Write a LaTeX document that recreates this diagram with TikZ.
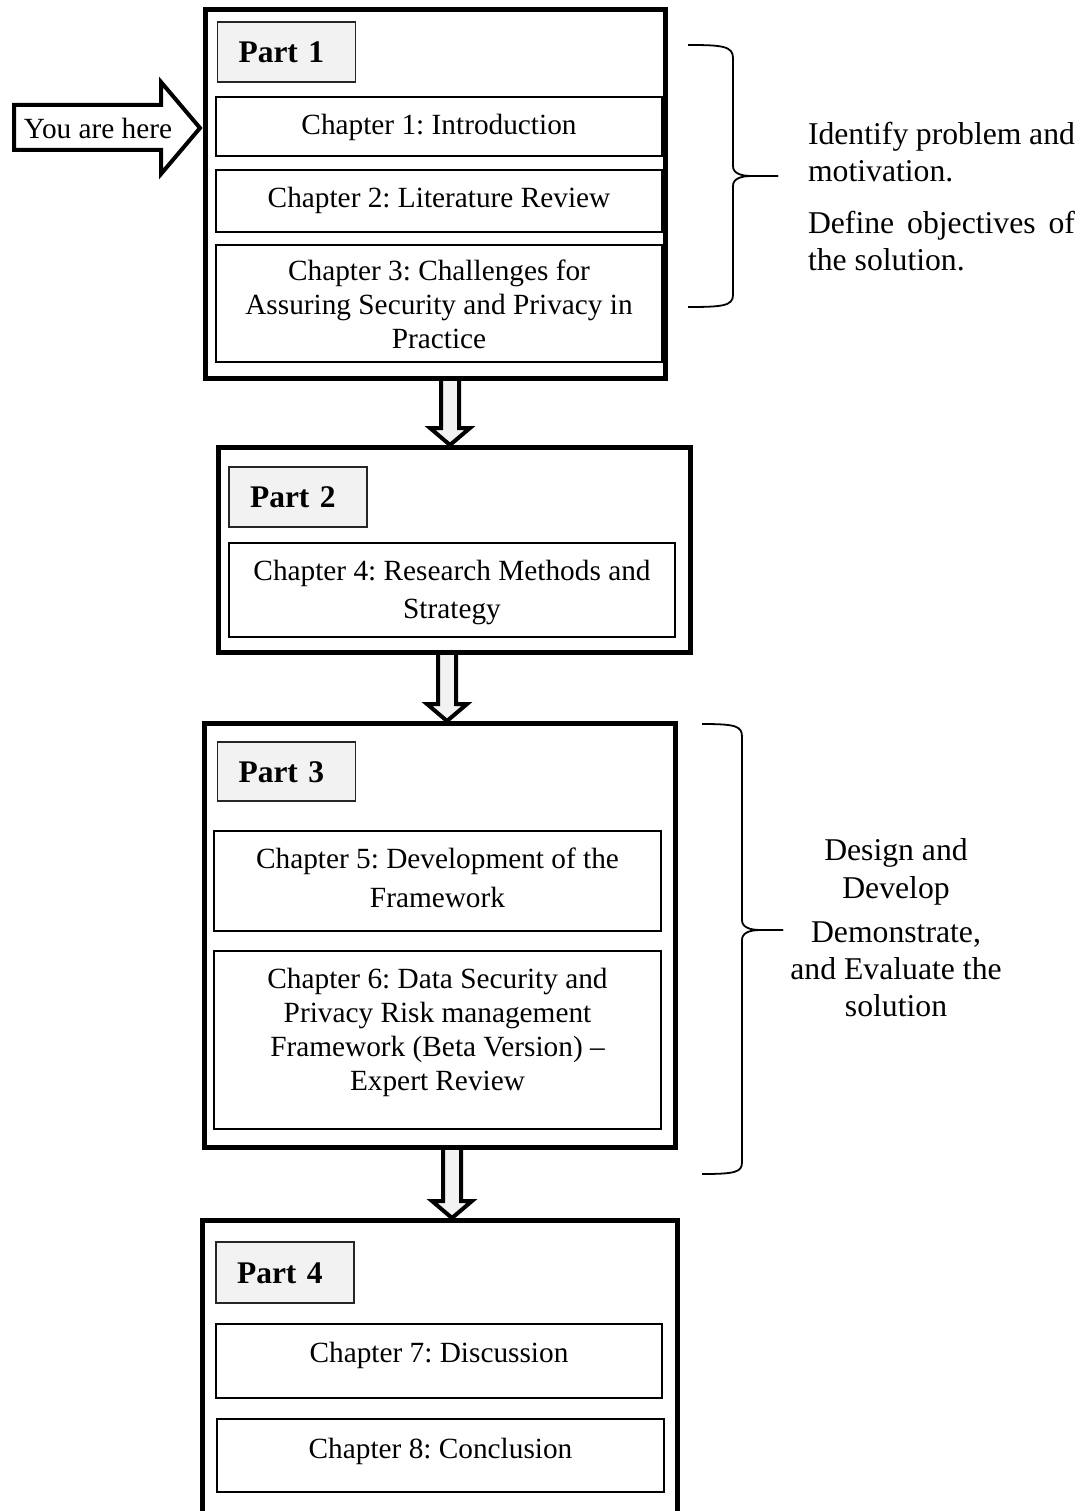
\documentclass[tikz,border=0pt]{standalone}
\usepackage{fontspec}
\setmainfont{Liberation Serif}
\usetikzlibrary{calc}
\definecolor{labelgray}{HTML}{F2F2F2}
\pgfdeclarelayer{background}
\pgfsetlayers{background,main}
\frenchspacing

% hollow block arrow pointing down from one frame to the next
% #1 = x position, #2 = upper frame, #3 = lower frame
\newcommand\hollowdown[3]{%
  \draw[fatarrow] let \p1=(#2.south), \p2=(#3.north) in
    (#1pt-9pt,\y1) -- (#1pt-9pt,\y2+19pt) -- (#1pt-20pt,\y2+19pt)
    -- (#1pt,\y2+2pt) -- (#1pt+20pt,\y2+19pt) -- (#1pt+9pt,\y2+19pt)
    -- (#1pt+9pt,\y1);
}

\begin{document}
\begin{tikzpicture}[x=1pt, y=-1pt,
  every node/.style={inner sep=0pt, outer sep=0pt},
  txt/.style={font=\fontsize{29.3}{34}\selectfont},
  notetxt/.style={font=\fontsize{31.7}{37}\selectfont},
  partframe/.style={draw, line width=5pt, rectangle},
  partlabel/.style={draw=black!85, line width=1.8pt, fill=labelgray,
    font=\bfseries\fontsize{31.5}{36}\selectfont, align=left,
    text width=96pt, inner xsep=21pt, text height=21.5pt, text depth=0pt},
  chapbox/.style={draw, line width=2pt, rectangle},
  chaptext/.style={txt, align=center, anchor=north},
  fatarrow/.style={draw, line width=4pt, fill=labelgray, line join=miter},
  bracestyle/.style={line width=1.8pt}]

\useasboundingbox (0,0) rectangle (1082,1511);

% ---------------- Part 1 ----------------
\node[partframe, minimum width=460pt, minimum height=368pt] (part1) at (435,194) {};
\node[partlabel, minimum height=60pt] (part1label) at (286.5,52) {Part 1};
\node[chapbox, minimum width=446pt, minimum height=59pt] (ch1) at (439,126.5) {};
\node[chaptext] (ch1text) at (439,114.2) {Chapter 1: Introduction};
\node[chapbox, minimum width=446pt, minimum height=62pt] (ch2) at (439,201) {};
\node[chaptext] (ch2text) at (439,187.2) {Chapter 2: Literature Review};
\node[chapbox, minimum width=446pt, minimum height=117pt] (ch3) at (439,303.5) {};
\node[chaptext] (ch3text) at (439,260.2) {Chapter 3: Challenges for\\Assuring Security and Privacy in\\Practice};

% ---------------- Part 2 ----------------
\node[partframe, minimum width=472pt, minimum height=205pt] (part2) at (454,549.5) {};
\node[partlabel, minimum height=60pt] (part2label) at (298,497) {Part 2};
\node[chapbox, minimum width=446pt, minimum height=94pt] (ch4) at (452,590) {};
\node[chaptext, font=\fontsize{29.3}{38}\selectfont] (ch4text) at (452,560.2) {Chapter 4: Research Methods and\\Strategy};

% ---------------- Part 3 ----------------
\node[partframe, minimum width=471pt, minimum height=424pt] (part3) at (439.5,935) {};
\node[partlabel, minimum height=59pt] (part3label) at (286.5,771.5) {Part 3};
\node[chapbox, minimum width=447pt, minimum height=100pt] (ch5) at (437.5,881) {};
\node[chaptext, font=\fontsize{29.3}{39}\selectfont] (ch5text) at (437.5,848.2) {Chapter 5: Development of the\\Framework};
\node[chapbox, minimum width=447pt, minimum height=178pt] (ch6) at (437.5,1040) {};
\node[chaptext] (ch6text) at (437.5,968.2) {Chapter 6: Data Security and\\Privacy Risk management\\Framework (Beta Version) --\\Expert Review};

% ---------------- Part 4 ----------------
\node[partframe, minimum width=475pt, minimum height=340pt] (part4) at (439.5,1390) {};
\node[partlabel, minimum height=61pt] (part4label) at (285,1272.5) {Part 4};
\node[chapbox, minimum width=446pt, minimum height=74pt] (ch7) at (439,1361) {};
\node[chaptext] (ch7text) at (439,1342.2) {Chapter 7: Discussion};
\node[chapbox, minimum width=447pt, minimum height=73pt] (ch8) at (440.5,1455.5) {};
\node[chaptext] (ch8text) at (440.5,1438.2) {Chapter 8: Conclusion};

% ---------------- arrows between the parts ----------------
\begin{pgfonlayer}{background}
  \hollowdown{450}{part1}{part2}
  \hollowdown{447}{part2}{part3}
  \hollowdown{452}{part3}{part4}
\end{pgfonlayer}

% ---------------- "You are here" pointer ----------------
\draw[fatarrow, fill=white] (14,105) -- (161,105) -- (161,82) -- (200,128)
  -- (161,174) -- (161,150) -- (14,150) -- cycle;
\node[txt, anchor=base] (here) at (98,139) {You are here};

% ---------------- braces and their notes ----------------
\draw[bracestyle] (688,45) .. controls (722,45) and (733,46) .. (733,58)
  -- (733,166) .. controls (733,173) and (740,176) .. (752,176) -- (778,176);
\draw[bracestyle] (778,176) -- (752,176) .. controls (740,176) and (733,179) .. (733,186)
  -- (733,295) .. controls (733,306) and (722,307) .. (688,307);

\node[notetxt, align=left, anchor=north west] (goal1)
  at (808,122.3) {\makebox[267pt][s]{Identify problem and}\\motivation.};
\node[notetxt, align=left, anchor=north west] (goal2)
  at (808,211.3) {\makebox[267pt][s]{Define objectives of}\\the solution.};

\draw[bracestyle] (702,724) .. controls (736,724) and (742,726) .. (742,737)
  -- (742,920) .. controls (742,927) and (749,930) .. (761,930) -- (783,930);
\draw[bracestyle] (783,930) -- (761,930) .. controls (749,930) and (742,933) .. (742,940)
  -- (742,1162) .. controls (742,1172) and (736,1174) .. (702,1174);

\node[notetxt, font=\fontsize{31.7}{38}\selectfont, align=center, anchor=north] (design)
  at (896,838.3) {Design and\\Develop};
\node[notetxt, align=center, anchor=north] (evaluate)
  at (896,921.3) {Demonstrate,\\and Evaluate the\\solution};

\end{tikzpicture}
\end{document}
